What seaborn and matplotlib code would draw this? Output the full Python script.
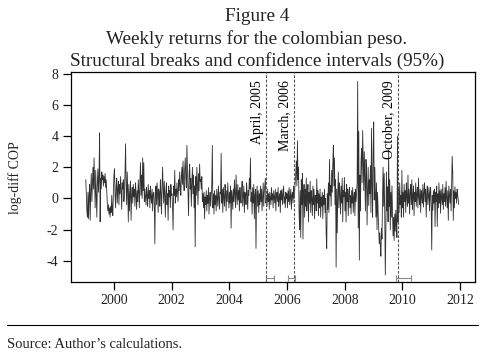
import numpy as np
import pandas as pd
import matplotlib
matplotlib.use("Agg")
import matplotlib.pyplot as plt
from matplotlib.lines import Line2D
import seaborn as sns

# Weekly log-diff returns (one list per year, 52 weeks each)
ret_1999 = [1.2, 0.3, -0.8, -1.2, 0.4, -1.3, 0.2, 0.9, -1.4, 0.5, 1.6, -0.2, 0.8,
            2.0, 0.6, 2.6, 1.1, -0.6, 1.8, 0.3, -1.2, 1.0, 1.9,
            0.4, 1.5, 4.2, -1.5, 1.3, 0.6, 1.7, 1.2,
            1.5, 0.8, 1.4, 1.0, 1.6, 0.7, 1.2, 0.4, -0.3, -0.8,
            -0.4, -1.0, -0.6, -1.2, -0.5, -0.9, 0.2, -0.7, -1.1, 0.5, 1.5]
ret_2000 = [1.9, 0.2, -0.6, 0.8, 1.3, -0.3, 0.6, 1.1, -0.4, 0.9,
            0.3, 1.4, 0.5, -0.7, 1.0, 0.6, 1.2, -0.2, 0.4, 1.6,
            3.5, 0.8, -0.4, 1.7,
            0.5, -1.5, 0.9, -0.8, 0.3, 1.1, -1.4, 0.2, 0.7,
            -0.3, 0.9, 0.1, 0.6, -0.5, 1.0, 0.3, -0.7, 0.5, -0.2, 1.2, 0.4, -0.6,
            1.1, 2.3, 0.2, 1.5, 0.0, 2.6]
ret_2001 = [0.5, 2.3, -0.2, 0.6, 0.1, -0.4, 0.7, 0.2, -0.5, 0.9,
            0.0, 0.5, -0.6, 0.8, 0.1, -0.3, 0.6, -0.8, 0.3, 0.4,
            -0.2, -2.9, 0.3, 0.8,
            -0.4, 1.0, 0.2, -0.9, 0.6, 0.3, -0.5, 1.2, 0.4, -1.0, 0.7, 2.0,
            0.6, -0.3, 1.1, 0.2, -1.2, 0.5, 1.0, -0.4, 0.3, -1.4, 0.8, 0.1, 0.5, -0.6, 0.9, 0.2]
ret_2002 = [0.3, -0.5, -2.0, 0.8, 0.2, 1.8, -0.3, 0.6, 0.1, 1.0,
            0.4, -0.2, 1.2, 0.5, 1.7, 0.8, 0.2, 1.4, 2.0, 0.9,
            2.4, 1.1, 0.5, 1.9, 2.6, 1.3, 0.7, 3.4, 1.8, 0.4,
            -1.1, 1.6, 2.2, 0.6, 1.3, -0.5, 1.0, 2.0, 0.3, 1.5, -0.6, 0.8,
            -3.1, 1.4, 0.2, 2.0, 1.0, -0.4, 1.6, 0.5, 2.2, 1.1]
ret_2003 = [1.2, 0.6, 1.4, -0.2, 0.3, -0.6, 0.4, -1.3, 0.1, -0.4,
            0.5, -0.8, 0.2, -0.3, 0.7, -1.0, 0.0, 0.4, -0.5, 0.2, 0.9,
            3.4, -0.6, 0.3,
            -1.0, 0.5, -0.4, 0.2, -0.8, 0.6, 0.0, -0.5, 0.8, 0.1, -0.7, 0.4, 0.3,
            2.9, -0.3, 0.6,
            -0.9, 0.7, 0.1, -0.5, 0.9, 0.3, -0.8, 0.5, -0.2, 1.0, 0.2, -0.6]
ret_2004 = [0.4, -0.3, 0.8, -1.9, 0.5, 0.1, -0.7, 0.6, -0.2, 1.2,
            0.2, -0.6, 1.5, 0.3, -0.4, 0.9, -0.1, 0.5, -0.8, 0.7,
            0.0, -0.3, 0.6, 1.1, -0.5, 0.2, 0.8, -0.9, 0.4, 0.1, -0.4, 1.0, 0.3, -0.7, 0.5, 0.2, 1.3, 0.6,
            2.6, -0.2,
            0.4, -1.0, 0.7, -0.3, 0.9, -1.3, 0.2, 0.6, -3.2, 0.1, 0.8, -0.5]
ret_2005 = [0.5, -0.9, 0.3, -0.4, 0.8, -0.2, 0.6, -0.8, 0.2, 1.0, -0.5, 0.4, 0.9,
            1.3, -0.3,
            0.2, -0.5, 0.6, -0.2, 0.3, -0.7, 0.4, 0.0, -0.4, 0.7,
            -0.1, 0.3, -0.6, 0.5, 0.1, -0.3, 0.6, -0.8, 0.2, 0.4,
            -0.2, 0.7, -0.5, 0.1, 0.3, -0.9, 0.5, -0.1, 0.6, -0.4,
            0.2, 0.8, -0.3, 0.1, -0.6, 0.4, 0.0]
ret_2006 = [0.3, -0.6, 0.5, -0.2, 0.7, -0.4, 0.1, 0.6, -0.7, 0.2, 0.4, -0.3, 0.8, 0.0, 0.5,
            1.0, 1.6, 2.4, 0.8, 3.7, 1.2, 2.0,
            -1.0, -2.0, 0.5, -2.5, 1.2, -0.4, 1.6, -2.6, 0.3,
            0.9, -1.2, 0.6, -0.5, 1.3, -0.8, 0.2, 0.9, -1.5, 0.4, -0.3, 1.1, -0.9, 0.5, 0.0,
            -1.1, 0.8, -0.4, 0.6, -1.3, 0.2]
ret_2007 = [0.2, -0.8, 1.25, -0.3, 0.5, -1.1, 0.3, -0.6, 0.6, -1.2,
            0.1, -0.5, 0.4, -1.3, 0.2, -0.4, 0.6, -0.9, 0.0,
            -2.3, -3.2,
            0.3, -0.7, 1.0, -0.9, 2.5, 0.2,
            0.85, -0.5, 1.8, 0.4, 2.2, 3.4, 0.8, 2.6, -0.4,
            1.2, -4.4, 0.6, -2.2,
            0.3, 1.7, -0.6, 1.0, 0.2, -1.0, 0.8, -0.3, 1.3, -1.5, 0.5, 0.1]
ret_2008 = [1.35, -0.8, 0.4, -1.5, 0.9, -0.2, 0.6, -1.1, 0.3,
            0.7, -0.6, 0.2, -1.0, 0.5, -0.3, 0.7, -0.9, 0.1, 0.4, -1.1, 0.6, -0.2, 0.3,
            1.0, 7.5, -1.9, 4.3,
            -3.95, 1.5, -0.8, 2.3,
            3.2, 1.0, 4.35, 2.3, 0.5, 3.0, 1.4, -0.8, 2.5, 1.7,
            -1.7, 0.6, 2.0, -0.45, 1.2, 0.3,
            2.1, -0.9, 4.5, 0.8, -1.2]
ret_2009 = [3.1, 4.9, -0.1, 2.0, 0.5,
            -1.2, 1.0, -2.0, 0.4, -0.9,
            -1.8, -2.9, -2.2, -3.1, -3.7, -1.9, -2.6,
            0.1, 2.0, -0.5, 1.6, -1.0,
            -4.9, -2.0,
            1.7, -0.8, 0.75, -1.5, 3.1, -0.5, 1.2, -2.0, 0.4, -1.2, 0.8,
            -0.8, -2.4, -1.2, -2.7, -1.0, -2.1, -0.75, -1.8, -2.5,
            4.0,
            -1.5, 0.6, -0.9, 1.0, -0.4, 0.2, -1.2]
ret_2010 = [1.8, -0.6, 0.4, -1.2, 0.9, -0.2, 0.5, -0.9, 1.0, 0.1, -0.5, 1.5, -0.3,
            0.6, -1.0, 0.3, 0.9, -0.4, 1.2, -0.7, 0.2, 0.8, -1.1, 0.4, -0.2, 1.0,
            -0.5, 0.3, 0.7, -0.6, 1.3, 0.1, -0.4, 0.6, -0.9, 0.5, 0.2, -0.3, 0.9,
            -0.55, 0.4, 1.0, -0.2, 0.6, -1.2, 0.3, 0.8, -0.4, 0.1, 0.7, -0.8, 0.4]
ret_2011 = [0.7, -0.5, -3.3, 0.2, -0.75, 0.5, -0.3, 0.6, -1.8, 0.4,
            -0.2, 0.8, -1.8, 0.3, -0.6, 1.0, -0.3, 0.5, -0.95, 0.6,
            0.1, -0.4, 0.9, -0.7, 0.3, -0.2, 0.7, -0.5, 1.1, 0.0,
            -0.6, 0.5, -1.4, 0.8, 0.2, -0.3, 0.6, -0.8,
            1.0, 2.7, 1.7, -1.4,
            0.5, -0.6, 0.75, 0.0, 0.4, -0.3, 0.6, 0.2, -0.1, -0.4]

returns = (ret_1999 + ret_2000 + ret_2001 + ret_2002 + ret_2003 + ret_2004 + ret_2005
           + ret_2006 + ret_2007 + ret_2008 + ret_2009 + ret_2010 + ret_2011)
dates = pd.date_range("1999-01-08", periods=len(returns), freq="W-FRI")

break_dates = ["2005-04-15", "2006-04-03", "2009-11-01"]
break_labels = ["April, 2005", "March, 2006", "October, 2009"]
ci_low = ["2005-04-08", "2006-01-12", "2009-10-08"]
ci_high = ["2005-07-16", "2006-04-07", "2010-04-16"]
year_ticks = [2000, 2002, 2004, 2006, 2008, 2010, 2012]
y_ticks = [-4, -2, 0, 2, 4, 6, 8]

sns.set_style("ticks")
plt.rcParams["font.family"] = ["Liberation Serif", "DejaVu Serif"]
plt.rcParams["axes.unicode_minus"] = False

W, H = 491, 361
fig = plt.figure(figsize=(W / 100, H / 100), dpi=100)
ax = fig.add_axes([71 / W, 1 - 282 / H, 404 / W, 210 / H])

df = pd.DataFrame({"date": dates, "ret": returns})
sns.lineplot(data=df, x="date", y="ret", ax=ax, color="#303030",
             linewidth=0.6, estimator=None)

for d, lab in zip(break_dates, break_labels):
    t = pd.Timestamp(d)
    ax.axvline(t, color="#555555", lw=0.8, ls=(0, (2.5, 1.5)), zorder=3)
    ax.annotate(lab, xy=(t, 7.6), xytext=(-2, 0), textcoords="offset points",
                rotation=90, ha="right", va="top", fontsize=10, color="black")

ci_y = -5.1
lo = [pd.Timestamp(d) for d in ci_low]
hi = [pd.Timestamp(d) for d in ci_high]
ax.hlines([ci_y] * len(lo), lo, hi, color="#888888", lw=0.8)
ax.vlines(lo + hi, ci_y - 0.17, ci_y + 0.17, color="#888888", lw=0.8)

ax.set_xlim(pd.Timestamp("1998-07-05"), pd.Timestamp("2012-07-08"))
ax.set_ylim(-5.35, 8.1)
ax.set_xticks([pd.Timestamp(f"{y}-01-01") for y in year_ticks])
ax.set_xticklabels([str(y) for y in year_ticks])
ax.set_yticks(y_ticks)
ax.set_yticklabels([str(v) for v in y_ticks])
ax.set_xlabel("")
ax.set_ylabel("")
ax.tick_params(direction="out", length=6, width=0.9, labelsize=10,
               color="black", labelcolor="#222222", pad=3)
for s in ax.spines.values():
    s.set_linewidth(0.9)
    s.set_color("black")

fig.text(15 / W, 1 - 178 / H, "log-diff COP", rotation=90, ha="center",
         va="center", fontsize=10, color="#222222")

title_lines = ["Figure 4", "Weekly returns for the colombian peso.",
               "Structural breaks and confidence intervals (95%)"]
for line, yb in zip(title_lines, [21, 43.5, 66]):
    fig.text(257 / W, 1 - yb / H, line, ha="center", va="baseline",
             fontsize=13.8, color="#222222")

fig.add_artist(Line2D([7 / W, 478 / W], [1 - 325 / H] * 2, color="black", lw=0.8))
fig.text(7 / W, 1 - 347.5 / H, "Source: Author\u2019s calculations.", ha="left",
         va="baseline", fontsize=10.5, color="#222222")

fig.savefig("out.png", dpi=100)
